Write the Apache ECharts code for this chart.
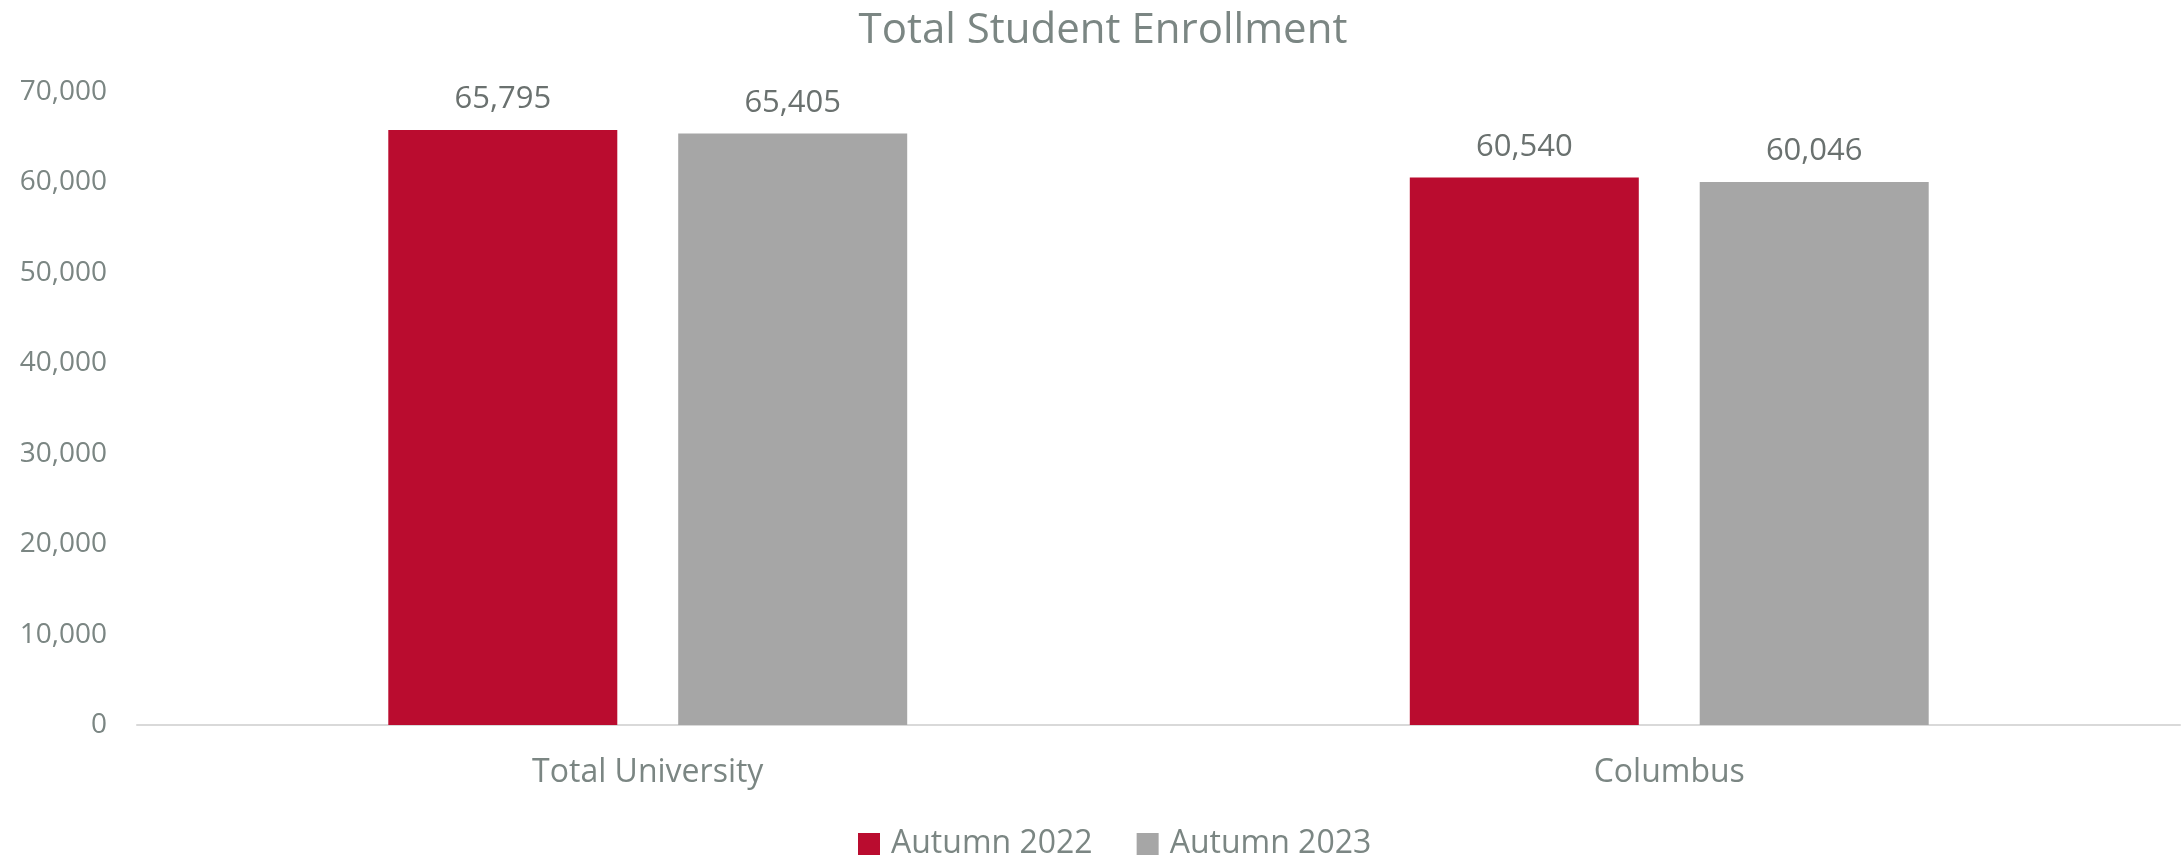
<!DOCTYPE html>
<html>
<head>
<meta charset="utf-8">
<script src="https://cdn.jsdelivr.net/npm/echarts@6/dist/echarts.min.js"></script>
<style>
html,body{margin:0;padding:0;background:#fff;}
#chart{width:2181px;height:858px;}
</style>
</head>
<body>
<div id="chart"></div>
<script>
const categories = ['Total University', 'Columbus'];
const seriesNames = ['Autumn 2022', 'Autumn 2023'];
const autumn2022 = [65795, 60540];
const autumn2023 = [65405, 60046];
const yTicks = [0, 10000, 20000, 30000, 40000, 50000, 60000, 70000];

const FONT = '"Open Sans", "Noto Sans", sans-serif';
const TXT = '#7b8683';
const LBL = '#6a716f';
const fmt = v => v.toLocaleString('en-US');

const chart = echarts.init(document.getElementById('chart'), null, {renderer: 'canvas'});
chart.setOption({
  animation: false,
  backgroundColor: '#ffffff',
  title: {
    text: 'Total Student Enrollment',
    left: 1098, top: 5, textAlign: 'center',
    textStyle: {fontFamily: FONT, fontSize: 42, fontWeight: 'normal', color: TXT}
  },
  legend: {
    data: seriesNames,
    left: 853, top: 823,
    itemWidth: 22, itemHeight: 22, itemGap: 44,
    icon: 'rect',
    textStyle: {fontFamily: FONT, fontSize: 32, color: TXT, padding: [0, 0, 0, 6]}
  },
  grid: {left: 137, right: 1, top: 92, bottom: 133, containLabel: false},
  xAxis: {
    type: 'category', data: categories,
    axisLine: {show: true, lineStyle: {color: '#d9d9d9', width: 2}},
    axisTick: {show: false},
    axisLabel: {fontFamily: FONT, fontSize: 32, color: TXT, margin: 32}
  },
  yAxis: {
    type: 'value', min: yTicks[0], max: yTicks[yTicks.length - 1], interval: 10000,
    axisLine: {show: false}, axisTick: {show: false},
    splitLine: {show: false},
    axisLabel: {fontFamily: FONT, fontSize: 28, color: TXT, margin: 30, formatter: v => fmt(v)}
  },
  series: [
    {
      name: seriesNames[0], type: 'bar', data: autumn2022,
      barWidth: 229, barGap: '26.6%',
      itemStyle: {color: '#ba0c2f'},
      label: {show: true, position: 'top', distance: 15, fontFamily: FONT, fontSize: 31, color: LBL, formatter: p => fmt(p.value)}
    },
    {
      name: seriesNames[1], type: 'bar', data: autumn2023,
      barWidth: 229, barGap: '26.6%',
      itemStyle: {color: '#a6a6a6'},
      label: {show: true, position: 'top', distance: 15, fontFamily: FONT, fontSize: 31, color: LBL, formatter: p => fmt(p.value)}
    }
  ]
});
</script>
</body>
</html>
